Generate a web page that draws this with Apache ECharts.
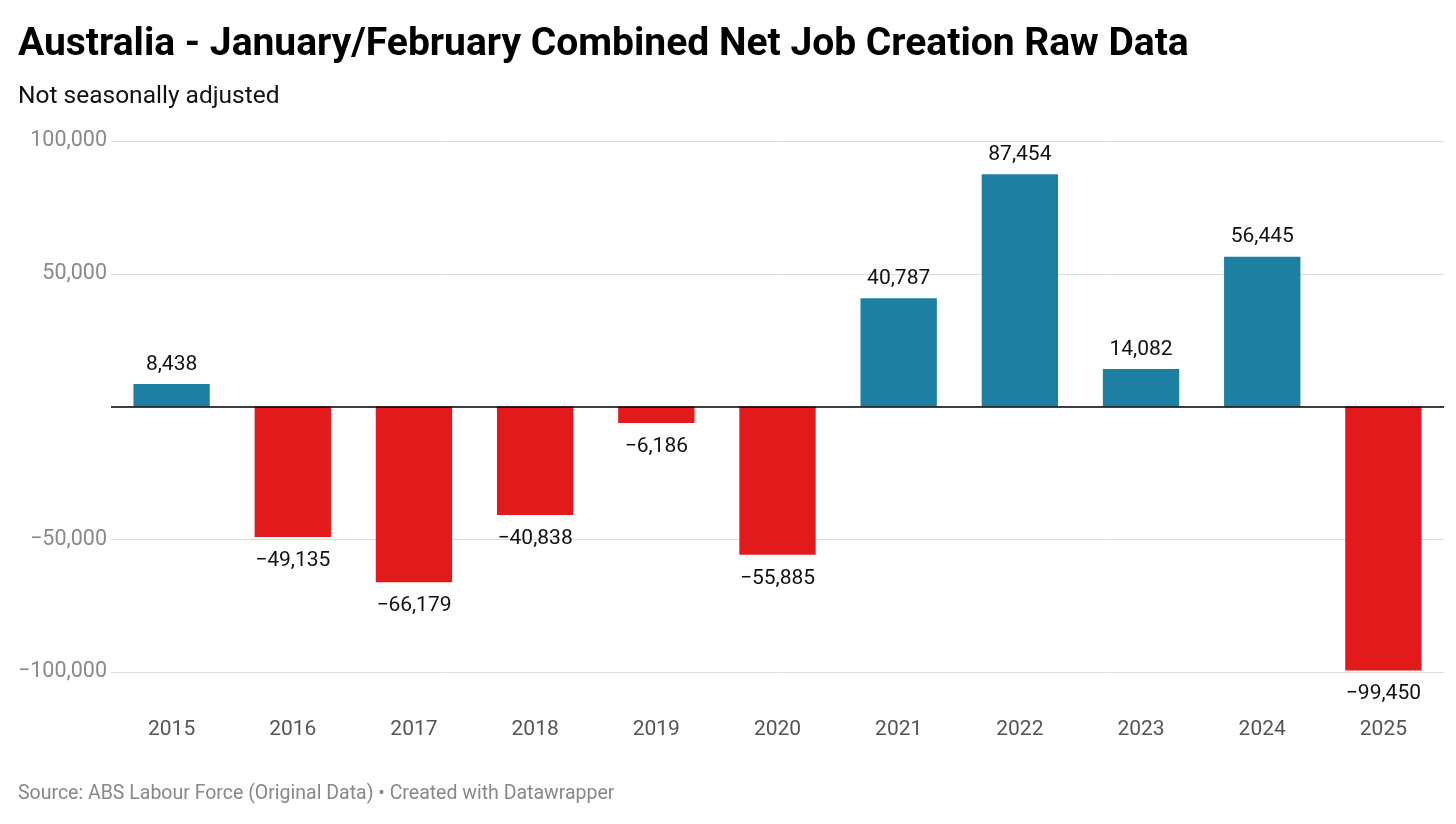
<!DOCTYPE html>
<html>
<head>
<meta charset="utf-8">
<script src="https://cdn.jsdelivr.net/npm/echarts@6/dist/echarts.min.js"></script>
<style>
html,body{margin:0;padding:0;background:#fff;}
#chart{width:1456px;height:824px;}
</style>
</head>
<body>
<div id="chart"></div>
<script>
const years = ['2015','2016','2017','2018','2019','2020','2021','2022','2023','2024','2025'];
const netJobs = [8438, -49135, -66179, -40838, -6186, -55885, 40787, 87454, 14082, 56445, -99450];
const yTicks = [-100000, -50000, 0, 50000, 100000];

const posColor = '#1d80a2';
const negColor = '#e31a1c';

function fmt(v){
  const s = Math.abs(v).toLocaleString('en-US');
  return v < 0 ? '\u2212' + s : s;
}

const chart = echarts.init(document.getElementById('chart'));
chart.setOption({
  backgroundColor: '#fff',
  animation: false,
  textStyle: { fontFamily: 'Roboto' },
  title: [
    { text: 'Australia - January/February Combined Net Job Creation Raw Data', left: 18, top: 26, padding: 0,
      textStyle: { fontFamily: 'Roboto', fontWeight: 'bold', fontSize: 39, color: '#000' } },
    { text: 'Not seasonally adjusted', left: 18, top: 84, padding: 0,
      textStyle: { fontFamily: 'Roboto', fontWeight: 'normal', fontSize: 24.5, color: '#111' } },
    { text: 'Source: ABS Labour Force (Original Data) \u2022 Created with Datawrapper', left: 18, top: 784, padding: 0,
      textStyle: { fontFamily: 'Roboto', fontWeight: 'normal', fontSize: 19.5, color: '#888' } }
  ],
  grid: { left: 111, right: 12, top: 141, bottom: 152, outerBoundsMode: 'none', containLabel: false },
  xAxis: {
    type: 'category',
    data: years,
    axisLine: { show: false, onZero: false },
    axisTick: { show: false },
    axisLabel: { color: '#555', fontSize: 21, fontFamily: 'Roboto', margin: 47 }
  },
  yAxis: {
    type: 'value',
    min: yTicks[0], max: yTicks[yTicks.length - 1], interval: yTicks[1] - yTicks[0],
    axisLine: { show: false },
    axisTick: { show: false },
    splitLine: { lineStyle: { color: '#dddddd', width: 1 } },
    axisLabel: { color: '#8a8a8a', fontSize: 21.5, fontFamily: 'Roboto', margin: 4,
      formatter: v => v === 0 ? '' : fmt(v) }
  },
  series: [{
    type: 'bar',
    data: netJobs.map(v => ({
      value: v,
      itemStyle: { color: v >= 0 ? posColor : negColor },
      label: { position: v >= 0 ? 'top' : 'bottom', distance: v >= 0 ? 9 : 13 }
    })),
    barWidth: '63%',
    label: {
      show: true,
      color: '#111',
      fontSize: 21,
      fontFamily: 'Roboto',
      formatter: p => fmt(p.value)
    },
    markLine: {
      silent: true,
      symbol: 'none',
      label: { show: false },
      lineStyle: { color: '#000', width: 1.5, type: 'solid' },
      data: [{ yAxis: 0 }],
      z: 5
    }
  }]
});
</script>
</body>
</html>
